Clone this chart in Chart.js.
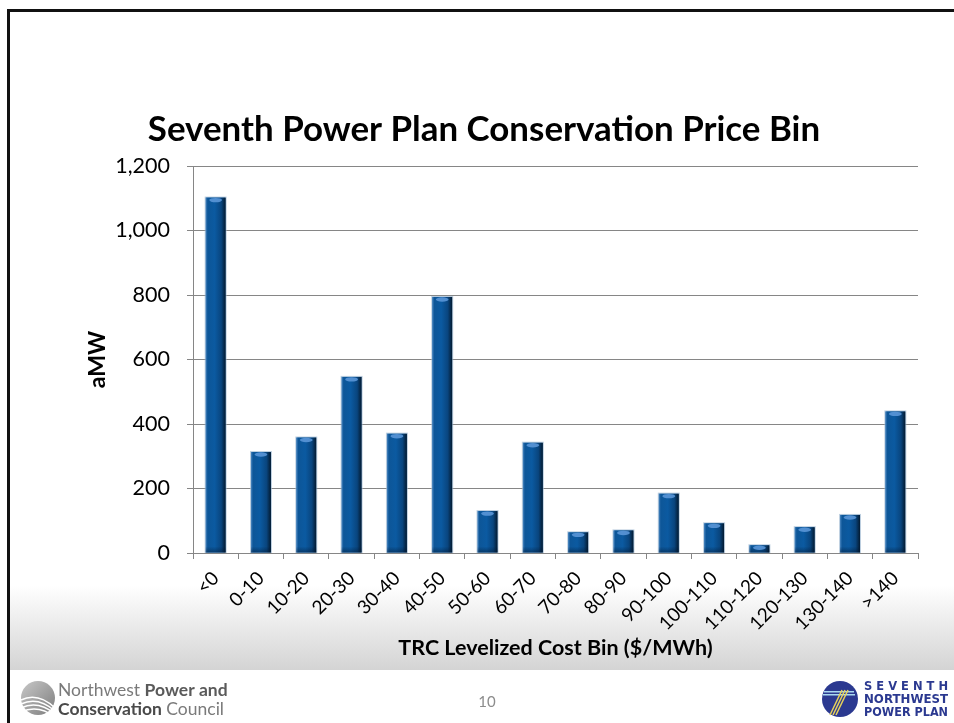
<!DOCTYPE html>
<html><head><meta charset="utf-8">
<script src="https://cdn.jsdelivr.net/npm/chart.js@4.4.1/dist/chart.umd.min.js"></script>
<style>html,body{margin:0;padding:0;background:#fff;overflow:hidden}#wrap{width:954px;height:723px;position:relative}</style>
</head><body><div id="wrap"><canvas id="c" width="954" height="723"></canvas></div>
<script>
// ---- data ----
const categories = ['<0','0-10','10-20','20-30','30-40','40-50','50-60','60-70','70-80','80-90','90-100','100-110','110-120','120-130','130-140','>140'];
const aMW = [1102, 313, 358, 546, 370, 794, 130, 342, 64, 70, 184, 92, 24, 80, 118, 439];
const yTicks = [0, 200, 400, 600, 800, 1000, 1200];
const chartTitle = 'Seventh Power Plan Conservation Price Bin';
const xTitle = 'TRC Levelized Cost Bin ($/MWh)';
const yTitle = 'aMW';
const pageNumber = '10';
const leftLogoLines = [['Northwest ', 'Power and'], ['Conservation', ' Council']];
const rightLogoLines = ['S E V E N T H', 'NORTHWEST', 'POWER PLAN'];

const FONT = "Lato, 'Open Sans', sans-serif";

const slidePlugin = {
  id: 'slide',
  beforeDraw(chart) {
    const ctx = chart.ctx;
    ctx.save();
    ctx.fillStyle = '#ffffff';
    ctx.fillRect(0, 0, chart.width, chart.height);
    const g = ctx.createLinearGradient(0, 585, 0, 670);
    g.addColorStop(0, 'rgba(255,255,255,1)');
    g.addColorStop(1, '#d4d4d4');
    ctx.fillStyle = g;
    ctx.fillRect(9, 585, chart.width - 9, 85);
    ctx.fillStyle = '#111111';
    ctx.fillRect(7, 9, chart.width - 7, 3);
    ctx.fillRect(7, 9, 3, chart.height - 9);
    ctx.restore();
  },
  afterDraw(chart) {
    const ctx = chart.ctx;
    ctx.save();
    ctx.fillStyle = '#000';
    ctx.textAlign = 'center';
    ctx.textBaseline = 'alphabetic';
    let fs = 32;
    ctx.font = `bold ${fs}px ${FONT}`;
    const w = ctx.measureText(chartTitle).width;
    fs = fs * 672 / w;
    ctx.font = `bold ${fs.toFixed(1)}px ${FONT}`;
    ctx.fillText(chartTitle, 484, 141);

    ctx.fillStyle = '#8c8c8c';
    ctx.font = `15px ${FONT}`;
    ctx.fillText(pageNumber, 487, 707);

    // left logo
    const cx = 38, cy = 698, r = 17;
    const lg = ctx.createLinearGradient(cx - r, cy - r, cx + r, cy + r);
    lg.addColorStop(0, '#c8c8c8'); lg.addColorStop(1, '#7d7d7d');
    ctx.fillStyle = lg;
    ctx.beginPath(); ctx.arc(cx, cy, r, 0, Math.PI * 2); ctx.fill();
    ctx.strokeStyle = '#ffffff'; ctx.lineWidth = 1.5;
    for (let i = 0; i < 4; i++) {
      ctx.beginPath();
      ctx.moveTo(cx - r, cy + 2 + i * 4);
      ctx.quadraticCurveTo(cx, cy - 6 + i * 4, cx + r, cy + 10 + i * 3);
      ctx.stroke();
    }
    ctx.textAlign = 'left';
    const lf = 17.5;
    let x = 58;
    ctx.font = `${lf}px ${FONT}`;
    ctx.fillStyle = '#7a7a7a';
    ctx.fillText(leftLogoLines[0][0], x, 696);
    x += ctx.measureText(leftLogoLines[0][0]).width;
    ctx.font = `bold ${lf}px ${FONT}`;
    ctx.fillStyle = '#5a5a5a';
    ctx.fillText(leftLogoLines[0][1], x, 696);
    x = 58;
    ctx.font = `bold ${lf}px ${FONT}`;
    ctx.fillStyle = '#4a4a4a';
    ctx.fillText(leftLogoLines[1][0], x, 715);
    x += ctx.measureText(leftLogoLines[1][0]).width;
    ctx.font = `${lf}px ${FONT}`;
    ctx.fillStyle = '#7a7a7a';
    ctx.fillText(leftLogoLines[1][1], x, 715);

    // right logo
    const rx = 840, ry = 699, rr = 18;
    ctx.fillStyle = '#2b3990';
    ctx.beginPath(); ctx.arc(rx, ry, rr, 0, Math.PI * 2); ctx.fill();
    ctx.fillStyle = '#a9d8f0';
    ctx.fillRect(rx - rr + 2, ry - 8, 2 * rr - 6, 1.5);
    ctx.fillRect(rx - rr + 1, ry - 5, 2 * rr - 4, 1.5);
    ctx.strokeStyle = '#e8d25a'; ctx.lineWidth = 1.5;
    for (let i = 0; i < 3; i++) {
      ctx.beginPath();
      ctx.moveTo(rx + 2 + i * 3, ry - 9);
      ctx.lineTo(rx - 10 + i * 3, ry + 16);
      ctx.stroke();
    }
    ctx.fillStyle = '#2b3990';
    const ys = [690, 703, 716];
    rightLogoLines.forEach((t, i) => {
      ctx.font = `900 13px 'DejaVu Sans', ${FONT}`;
      const tw = ctx.measureText(t).width;
      ctx.save();
      ctx.translate(864, ys[i]);
      ctx.scale(84 / tw, 1);
      ctx.fillText(t, 0, 0);
      ctx.restore();
    });
    ctx.restore();
  }
};

const barStylePlugin = {
  id: 'barStyle',
  afterDatasetsDraw(chart) {
    const ctx = chart.ctx;
    const meta = chart.getDatasetMeta(0);
    ctx.save();
    meta.data.forEach(bar => {
      const {x, y, base, width} = bar.getProps(['x', 'y', 'base', 'width'], true);
      const l = x - width / 2, t = y, h = base - y;
      ctx.strokeStyle = 'rgba(160,185,210,0.7)';
      ctx.lineWidth = 1;
      ctx.strokeRect(l - 0.5, t - 0.5, width + 1, h + 0.5);
      const g = ctx.createLinearGradient(l, 0, l + width, 0);
      g.addColorStop(0, '#4a86c0');
      g.addColorStop(0.1, '#0d5698');
      g.addColorStop(0.45, '#0b5aa1');
      g.addColorStop(0.78, '#09457e');
      g.addColorStop(1, '#031a30');
      ctx.fillStyle = g;
      ctx.fillRect(l, t, width, h);
      const bg = ctx.createLinearGradient(0, base - 6, 0, base);
      bg.addColorStop(0, 'rgba(0,20,45,0)');
      bg.addColorStop(1, 'rgba(0,20,45,0.45)');
      ctx.fillStyle = bg;
      ctx.fillRect(l, Math.max(t, base - 6), width, Math.min(6, h));
      if (h > 5) {
        ctx.fillStyle = 'rgba(90,150,215,0.9)';
        ctx.beginPath();
        ctx.ellipse(x, t + 2.5, width * 0.32, 2.2, 0, 0, Math.PI * 2);
        ctx.fill();
      }
    });
    ctx.restore();
  }
};

new Chart(document.getElementById('c'), {
  type: 'bar',
  data: {
    labels: categories,
    datasets: [{
      label: yTitle,
      data: aMW,
      backgroundColor: '#0b5aa1',
      barPercentage: 0.44,
      categoryPercentage: 1.0
    }]
  },
  options: {
    responsive: false,
    devicePixelRatio: 1,
    animation: false,
    layout: { padding: { top: 166, left: 76, right: 36, bottom: 62 } },
    plugins: { legend: { display: false }, title: { display: false }, tooltip: { enabled: false } },
    scales: {
      x: {
        afterFit(scale) { scale.height = 108; },
        grid: { display: true, drawOnChartArea: false, drawTicks: true, tickLength: 6, color: '#868686' },
        border: { color: '#868686' },
        ticks: { autoSkip: false, maxRotation: 45, minRotation: 45, padding: 8, color: '#000', font: { family: FONT, size: 19 } },
        title: { display: true, text: xTitle, color: '#000', padding: { top: 0, bottom: 0 }, font: { family: FONT, size: 21.5, weight: 'bold' } }
      },
      y: {
        min: 0, max: 1200,
        afterFit(scale) { scale.width = 117; },
        afterBuildTicks(scale) { scale.ticks = yTicks.map(v => ({ value: v })); },
        grid: { color: '#868686', tickLength: 6, drawTicks: true },
        border: { color: '#868686' },
        ticks: { padding: 17, color: '#000', font: { family: FONT, size: 21.5 }, callback: v => Number(v).toLocaleString('en-US') },
        title: { display: true, text: yTitle, color: '#000', padding: { top: 8, bottom: 0 }, font: { family: FONT, size: 23, weight: 'bold' } }
      }
    }
  },
  plugins: [slidePlugin, barStylePlugin]
});
</script>
</body></html>
